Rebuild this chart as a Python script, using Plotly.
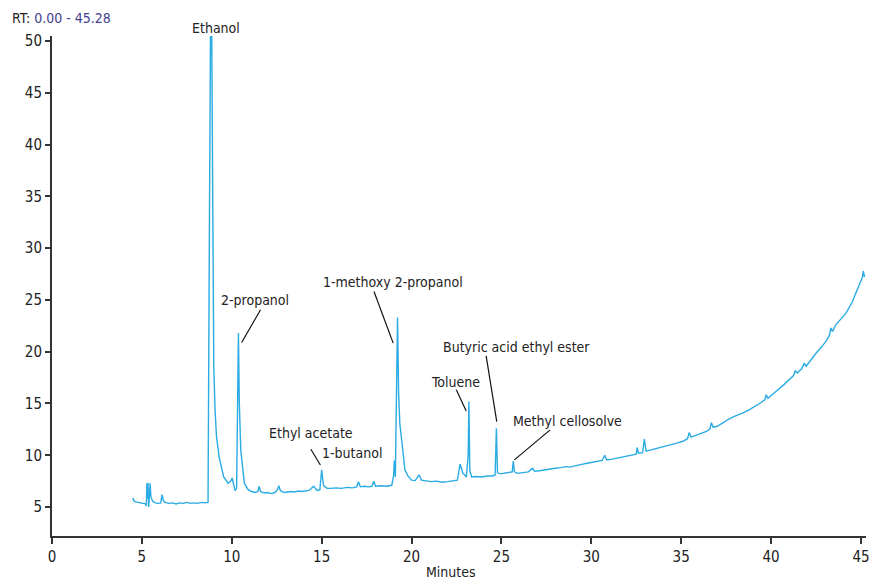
import plotly.graph_objects as go

# Retention time (minutes) and signal
rt = [4.50, 4.55, 4.65, 4.80, 4.95, 5.10, 5.20, 5.25, 5.28, 5.31, 5.34, 5.38, 5.42, 5.46, 5.50, 5.60, 5.75, 5.90,
      6.05, 6.12, 6.20, 6.30, 6.50, 6.70, 6.90, 7.10, 7.30, 7.50, 7.70, 7.90, 8.10, 8.30, 8.50, 8.68,
      8.75, 8.82, 8.88, 8.95, 9.00, 9.07, 9.15, 9.30, 9.55, 9.80, 9.95, 10.02, 10.10, 10.18, 10.27, 10.33,
      10.37, 10.42, 10.50, 10.70, 10.90, 11.10, 11.30, 11.45, 11.52, 11.60, 11.80, 12.00, 12.20, 12.40,
      12.55, 12.62, 12.70, 12.90, 13.10, 13.30, 13.50, 13.70, 13.90, 14.10, 14.30, 14.55, 14.75, 14.90,
      15.00, 15.10, 15.30, 15.50, 15.80, 16.10, 16.40, 16.70, 16.95, 17.05, 17.15, 17.40, 17.60, 17.80,
      17.90, 18.00, 18.30, 18.60, 18.90, 19.00, 19.04, 19.10, 19.16, 19.22, 19.28, 19.35, 19.45, 19.63,
      19.80, 20.00, 20.20, 20.42, 20.55, 20.80, 21.10, 21.40, 21.70, 22.00, 22.30, 22.55, 22.70, 22.85,
      23.05, 23.15, 23.19, 23.24, 23.35, 23.60, 23.90, 24.20, 24.50, 24.65, 24.72, 24.78, 24.95, 25.20,
      25.45, 25.60, 25.66, 25.72, 25.90, 26.20, 26.50, 26.73, 26.85, 27.10, 27.40, 27.70, 28.00, 28.30,
      28.60, 28.80, 29.10, 29.40, 29.70, 30.00, 30.30, 30.60, 30.75, 30.85, 31.10, 31.40, 31.70, 32.00,
      32.30, 32.50, 32.55, 32.62, 32.85, 32.95, 33.05, 33.30, 33.60, 33.90, 34.20, 34.50, 34.80, 35.10,
      35.35, 35.45, 35.55, 35.80, 36.10, 36.40, 36.60, 36.68, 36.78, 37.00, 37.30, 37.60, 37.90, 38.20,
      38.50, 38.80, 39.10, 39.40, 39.65, 39.73, 39.82, 40.10, 40.40, 40.70, 41.00, 41.25, 41.34, 41.45,
      41.70, 41.85, 41.95, 42.20, 42.50, 42.80, 43.05, 43.25, 43.33, 43.42, 43.60, 43.90, 44.16, 44.35,
      44.53, 44.70, 44.85, 45.00, 45.08, 45.13, 45.20]
signal = [5.9, 5.6, 5.5, 5.45, 5.4, 5.35, 5.3, 5.1, 7.3, 5.8, 7.35, 5.0, 7.3, 7.3, 6.0, 5.55, 5.4, 5.35,
          5.4, 6.2, 5.6, 5.45, 5.35, 5.4, 5.3, 5.4, 5.35, 5.45, 5.35, 5.4, 5.35, 5.45, 5.4, 5.45,
          30.0, 52.0, 52.0, 30.0, 18.5, 14.4, 11.8, 9.8, 7.9, 7.3, 7.5, 7.8, 7.0, 6.6, 6.8, 15.0,
          21.8, 15.0, 10.5, 7.3, 6.7, 6.5, 6.4, 6.5, 7.0, 6.5, 6.35, 6.4, 6.3, 6.4,
          6.7, 7.05, 6.6, 6.4, 6.45, 6.5, 6.45, 6.55, 6.5, 6.55, 6.6, 7.0, 6.6, 6.65,
          8.6, 7.1, 6.8, 6.8, 6.85, 6.8, 6.9, 6.85, 6.95, 7.45, 6.95, 7.0, 6.95, 7.0,
          7.5, 7.0, 7.05, 7.0, 7.1, 8.0, 9.5, 7.9, 16.0, 23.3, 16.0, 13.0, 11.5, 8.6,
          8.0, 7.6, 7.55, 8.1, 7.6, 7.5, 7.45, 7.5, 7.4, 7.45, 7.5, 7.6, 9.15, 8.3,
          7.9, 10.0, 15.2, 8.5, 7.9, 7.95, 7.9, 8.0, 8.0, 8.1, 12.6, 8.3, 8.2, 8.25,
          8.3, 8.4, 9.45, 8.4, 8.25, 8.35, 8.4, 8.75, 8.45, 8.5, 8.6, 8.65, 8.75, 8.8,
          8.9, 8.85, 9.0, 9.1, 9.2, 9.3, 9.35, 9.5, 10.0, 9.55, 9.6, 9.7, 9.8, 9.9,
          10.0, 10.1, 10.75, 10.2, 10.25, 11.55, 10.4, 10.5, 10.65, 10.8, 10.9, 11.05, 11.2, 11.35,
          11.6, 12.2, 11.75, 11.9, 12.05, 12.3, 12.55, 13.15, 12.7, 12.8, 13.1, 13.45, 13.7, 13.9,
          14.15, 14.4, 14.7, 15.05, 15.35, 15.85, 15.5, 15.95, 16.35, 16.8, 17.3, 17.7, 18.15, 17.95,
          18.35, 18.9, 18.6, 19.2, 19.85, 20.45, 21.0, 21.6, 22.3, 21.95, 22.6, 23.2, 23.7, 24.3,
          24.85, 25.6, 26.2, 26.8, 27.2, 27.8, 27.2]

# Peak labels: text, text position, leader line start / end
labels = ["2-propanol", "1-methoxy 2-propanol", "Ethyl acetate", "1-butanol",
          "Toluene", "Butyric acid ethyl ester", "Methyl cellosolve"]
label_x = [11.29, 18.98, 14.39, 16.66, 22.47, 25.84, 28.67]
label_y = [25.02, 26.76, 12.16, 10.22, 17.09, 20.47, 13.35]
line_x0 = [11.60, 17.91, None, 14.40, 22.49, 24.15, 27.71]
line_y0 = [24.05, 25.82, None, 10.58, 16.32, 19.60, 12.45]
line_x1 = [10.55, 18.98, None, 14.93, 23.04, 24.74, 25.72]
line_y1 = [20.89, 20.83, None, 9.06, 14.28, 13.25, 9.55]
top_label = "Ethanol"
top_label_x = 9.13

x_ticks = [0, 5, 10, 15, 20, 25, 30, 35, 40, 45]
y_ticks = [5, 10, 15, 20, 25, 30, 35, 40, 45, 50]

FONT = "DejaVu Sans Condensed, Liberation Sans Narrow, Roboto, sans-serif"
TXT = "#222222"

fig = go.Figure()
fig.add_trace(go.Scatter(x=rt, y=signal, mode="lines",
                         line=dict(color="#2aabe4", width=1.4), showlegend=False,
                         hoverinfo="x+y"))

for i, t in enumerate(labels):
    fig.add_annotation(x=label_x[i], y=label_y[i], xref="x", yref="y", text=t,
                       showarrow=False, font=dict(family=FONT, size=14, color=TXT))
    if line_x0[i] is not None:
        fig.add_shape(type="line", xref="x", yref="y",
                      x0=line_x0[i], y0=line_y0[i], x1=line_x1[i], y1=line_y1[i],
                      line=dict(color="#111111", width=1.2))

fig.add_annotation(x=top_label_x, y=1.036, xref="x", yref="paper", text=top_label,
                   showarrow=False, font=dict(family=FONT, size=14, color=TXT))
fig.add_annotation(xref="paper", yref="paper", x=-0.052, y=1.036, xanchor="left", yanchor="middle",
                   text="RT:<span style='color:#3f418f'> 0.00 - 45.28</span>", showarrow=False,
                   font=dict(family=FONT, size=14, color=TXT))
fig.add_annotation(xref="paper", yref="paper", x=0.49, y=-0.072, xanchor="center", yanchor="middle",
                   text="Minutes", showarrow=False, font=dict(family=FONT, size=14, color=TXT))

fig.update_layout(
    width=875, height=581,
    margin=dict(l=52, r=5, t=36, b=45),
    plot_bgcolor="white", paper_bgcolor="white",
    font=dict(family=FONT, size=14, color=TXT),
    xaxis=dict(range=[0, 45.28], tickvals=x_ticks, ticks="outside", ticklen=6, tickwidth=2,
               tickcolor="#333333", showline=True, linecolor="#333333", linewidth=2,
               showgrid=False, zeroline=False, tickfont=dict(family=FONT, size=15)),
    yaxis=dict(range=[2.2, 50.5], tickvals=y_ticks, ticks="outside", ticklen=5, tickwidth=2,
               tickcolor="#333333", showline=True, linecolor="#333333", linewidth=2,
               showgrid=False, zeroline=False, tickfont=dict(family=FONT, size=15)),
)

fig.write_html("out.html", config={"displayModeBar": False},
               post_script="document.body.style.margin='0px';")
